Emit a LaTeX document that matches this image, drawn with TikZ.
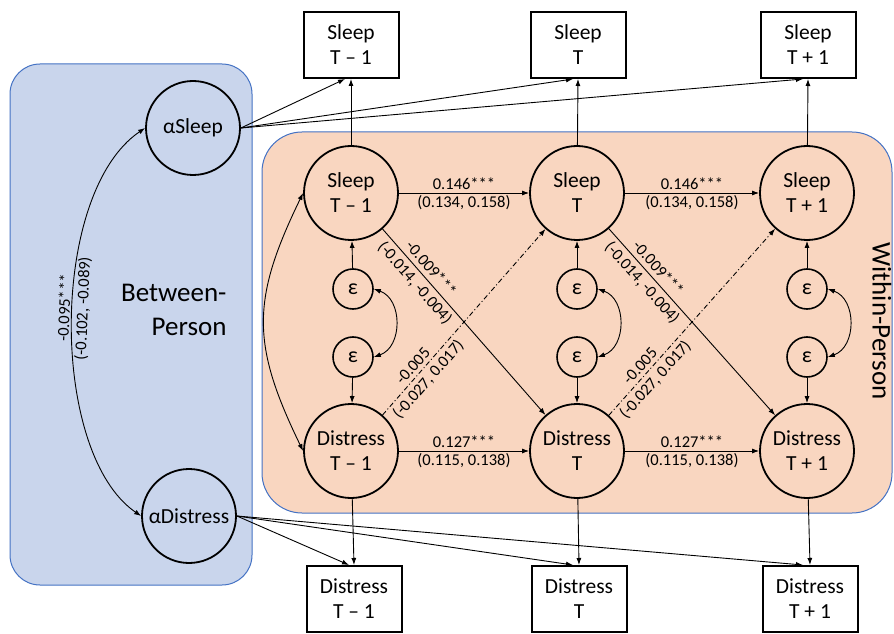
\documentclass[tikz,border=0pt]{standalone}
\usepackage{fontspec}
\setmainfont{Carlito}
\usetikzlibrary{arrows.meta}
\definecolor{bpfill}{RGB}{201,213,236}
\definecolor{bpline}{RGB}{68,114,196}
\definecolor{wpfill}{RGB}{249,214,192}
\tikzset{
 lat/.style={circle,draw,line width=1.8pt,minimum size=94pt,inner sep=0pt,align=center,font=\fontsize{21.5}{25}\selectfont},
 err/.style={circle,draw,line width=1.6pt,minimum size=40pt,inner sep=0pt,font=\fontsize{22}{24}\selectfont},
 obs/.style={rectangle,draw,line width=2pt,minimum width=95pt,minimum height=66pt,inner sep=0pt,align=center,fill=white,font=\fontsize{21.5}{25}\selectfont},
 arr/.style={-{Latex[length=7pt,width=5pt]},line width=0.9pt},
 darr/.style={{Latex[length=7pt,width=5pt]}-{Latex[length=7pt,width=5pt]},line width=0.9pt},
 coef/.style={font=\fontsize{16.5}{18}\selectfont,inner sep=1.5pt},
 dd/.style={dash pattern=on 5pt off 2.5pt on 1pt off 2.5pt},
 region/.style={font=\fontsize{27}{34}\selectfont},
}
\begin{document}
\begin{tikzpicture}[x=1pt,y=1pt]
\useasboundingbox (0,0) rectangle (894,633);
\fill[white] (0,0) rectangle (894,633);
% regions
\draw[fill=bpfill,draw=bpline,line width=1pt,rounded corners=30pt] (10,48) rectangle (252,569);
\draw[fill=wpfill,draw=bpline,line width=1pt,rounded corners=40pt] (262,120) rectangle (892,501);
\node[region,align=right,anchor=east] (bp) at (230,323) {Between-\\Person};
\node[region,rotate=-90] (wp) at (882,312) {Within-Person};
% between-person latent
\node[lat] (aS) at (193,505) {αSleep};
\node[lat] (aD) at (189,117) {αDistress};
% within-person latent
\node[lat] (s1) at (351,440) {Sleep\\T – 1};
\node[lat] (s2) at (577,440) {Sleep\\T};
\node[lat] (s3) at (807,440) {Sleep\\T + 1};
\node[lat] (d1) at (351,182) {Distress\\T – 1};
\node[lat] (d2) at (577,182) {Distress\\T};
\node[lat] (d3) at (807,182) {Distress\\T + 1};
% errors
\node[err] (es1) at (353,344) {ε};
\node[err] (ed1) at (353,276) {ε};
\node[err] (es2) at (577,344) {ε};
\node[err] (ed2) at (577,276) {ε};
\node[err] (es3) at (807,344) {ε};
\node[err] (ed3) at (807,276) {ε};
% observed
\node[obs] (bs1) at (351,588) {Sleep\\T – 1};
\node[obs] (bs2) at (578,588) {Sleep\\T};
\node[obs] (bs3) at (808,588) {Sleep\\T + 1};
\node[obs] (bd1) at (354,34) {Distress\\T – 1};
\node[obs] (bd2) at (579,34) {Distress\\T};
\node[obs] (bd3) at (810,34) {Distress\\T + 1};
% alpha loadings
\draw[arr] (aS.east) -- ([xshift=-6pt]bs1.south);
\draw[arr] (aS.east) -- ([xshift=-5pt]bs2.south);
\draw[arr] (aS.east) -- ([xshift=-5pt]bs3.south);
\draw[arr] (aD.east) -- ([xshift=-5pt]bd1.north);
\draw[arr] (aD.east) -- ([xshift=-6pt]bd2.north);
\draw[arr] (aD.east) -- ([xshift=-7pt]bd3.north);
% within to observed
\draw[arr] (s1) -- (bs1.south);
\draw[arr] (s2) -- (bs2.south);
\draw[arr] (s3) -- (bs3.south);
\draw[arr] (d1) -- (bd1.north);
\draw[arr] (d2) -- (bd2.north);
\draw[arr] (d3) -- (bd3.north);
% errors to latent
\draw[arr] (es1) -- (s1);
\draw[arr] (es2) -- (s2);
\draw[arr] (es3) -- (s3);
\draw[arr] (ed1) -- (d1);
\draw[arr] (ed2) -- (d2);
\draw[arr] (ed3) -- (d3);
\draw[darr] (es1.east) .. controls +(29,-10) and +(29,10) .. (ed1.east);
\draw[darr] (es2.east) .. controls +(29,-10) and +(29,10) .. (ed2.east);
\draw[darr] (es3.east) .. controls +(29,-10) and +(29,10) .. (ed3.east);
% autoregressive
\draw[arr] (s1) -- node[coef,above=1.5pt]{0.146***} node[coef,below=0.5pt]{(0.134, 0.158)} (s2);
\draw[arr] (s2) -- node[coef,above=1.5pt]{0.146***} node[coef,below=0.5pt]{(0.134, 0.158)} (s3);
\draw[arr] (d1) -- node[coef,above=1.5pt]{0.127***} node[coef,below=0.5pt]{(0.115, 0.138)} (d2);
\draw[arr] (d2) -- node[coef,above=1.5pt]{0.127***} node[coef,below=0.5pt]{(0.115, 0.138)} (d3);
% cross-lagged
\draw[arr] (s1) -- node[coef,sloped,above=3pt,pos=0.25]{-0.009***} node[coef,sloped,below=2pt,pos=0.25]{(-0.014, -0.004)} (d2);
\draw[arr] (s2) -- node[coef,sloped,above=3pt,pos=0.25]{-0.009***} node[coef,sloped,below=2pt,pos=0.25]{(-0.014, -0.004)} (d3);
\draw[arr,dd] (d1) -- node[coef,sloped,above=2pt,pos=0.23]{-0.005} node[coef,sloped,below=2pt,pos=0.23]{(-0.027, 0.017)} (s2);
\draw[arr,dd] (d2) -- node[coef,sloped,above=2pt,pos=0.23]{-0.005} node[coef,sloped,below=2pt,pos=0.23]{(-0.027, 0.017)} (s3);
% covariances
\draw[darr] (s1.west) .. controls +(-52,-107) and +(-52,107) .. (d1.west);
\draw[darr] (aD.west) .. controls +(-92,63) and +(-96,-65) .. node[coef,sloped,above=1pt,pos=0.53]{-0.095***} node[coef,sloped,below=1pt,pos=0.53]{(-0.102, -0.089)} (aS.west);
\end{tikzpicture}
\end{document}
